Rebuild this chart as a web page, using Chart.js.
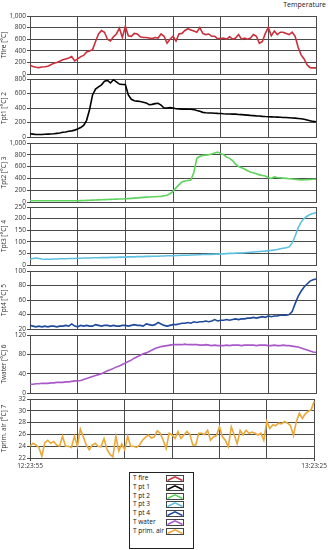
<!DOCTYPE html>
<html>
<head>
<meta charset="utf-8">
<script src="https://cdn.jsdelivr.net/npm/chart.js@4.4.0/dist/chart.umd.min.js"></script>
<style>
  body { margin: 0; background: #fff; width: 328px; height: 550px; position: relative; overflow: hidden; font-family: "Open Sans", sans-serif; }
  canvas { position: absolute; left: 0; }
  #title { position: absolute; right: 2px; top: 0px; font-size: 7px; color: #222; }
  #legend { position: absolute; left: 129px; top: 472px; width: 63px; height: 75px; border: 1px solid #222; background: #fff; }
  .row { position: absolute; left: 3px; width: 58px; height: 8px; }
  .row span { position: absolute; left: 0; top: 0; font-size: 6.5px; color: #111; line-height: 8px; }
  .row svg { position: absolute; left: 33px; top: 1px; }
</style>
</head>
<body>
<div id="title">Temperature</div>
<div id="legend"></div>
<script>
// time range of the recording
const START_TIME = '12:23:55';
const END_TIME = '13:23:25';

const seriesNames = ['T fire', 'T pt 1', 'T pt 2', 'T pt 3', 'T pt 4', 'T water', 'T prim. air'];
const axisTitles = ['Tfire [°C]', 'Tpt1 [°C] 2', 'Tpt2 [°C] 3', 'Tpt3 [°C] 4', 'Tpt4 [°C] 5', 'Twater [°C] 6', 'Tprim. air [°C] 7'];

const tFire = [150, 130, 115, 110, 120, 125, 135, 160, 185, 200, 220, 245, 260, 275, 300, 225, 260, 300, 320, 380,
  395, 420, 560, 690, 750, 720, 600, 570, 640, 690, 790, 630, 820, 660, 650, 700, 690, 640, 630, 630,
  620, 610, 630, 620, 690, 650, 530, 600, 650, 570, 690, 700, 750, 780, 760, 740, 720, 800, 700, 680,
  690, 650, 650, 610, 610, 620, 600, 640, 600, 620, 680, 600, 620, 600, 620, 680, 650, 530, 560, 700,
  800, 660, 740, 680, 720, 720, 700, 680, 720, 650, 460, 330, 260, 160, 110, 105, 105];

const tPt1 = [45, 40, 35, 35, 35, 38, 40, 42, 45, 50, 55, 65, 70, 80, 85, 95, 110, 130, 160, 230,
  380, 580, 660, 690, 720, 770, 780, 745, 790, 760, 730, 725, 725, 580, 520, 500, 495, 490, 480, 470,
  445, 450, 460, 465, 440, 400, 400, 405, 400, 390, 388, 385, 385, 383, 382, 378, 365, 355, 340, 335,
  332, 330, 328, 326, 325, 320, 318, 318, 316, 315, 310, 308, 305, 302, 298, 295, 292, 290, 285, 282,
  280, 278, 276, 274, 272, 270, 268, 265, 262, 260, 256, 252, 245, 235, 225, 215, 210];

const tPt2 = [25, 22, 20, 20, 20, 20, 20, 20, 20, 20, 20, 20, 20, 20, 20, 21, 22, 24, 26, 28,
  30, 32, 34, 36, 38, 40, 42, 44, 46, 48, 50, 52, 55, 58, 62, 66, 70, 74, 78, 82,
  85, 88, 90, 92, 95, 105, 115, 140, 180, 240, 290, 340, 355, 365, 372, 500, 740, 775, 790, 795,
  800, 815, 830, 845, 820, 800, 760, 740, 700, 640, 600, 580, 560, 530, 510, 495, 480, 460, 450, 440,
  410, 400, 425, 415, 410, 405, 400, 395, 390, 385, 380, 375, 378, 380, 382, 385, 385];

const tPt3 = [25, 28, 30, 28, 26, 25, 25, 25, 26, 26, 27, 27, 27, 28, 28, 28, 29, 29, 30, 30,
  30, 31, 31, 31, 32, 32, 32, 33, 33, 33, 34, 34, 34, 35, 35, 35, 36, 36, 36, 37,
  37, 38, 38, 38, 39, 39, 40, 40, 40, 41, 41, 42, 42, 42, 43, 43, 44, 44, 45, 45,
  46, 46, 47, 47, 48, 48, 49, 50, 50, 51, 52, 52, 53, 54, 55, 56, 57, 58, 59, 60,
  62, 63, 65, 67, 70, 72, 74, 78, 95, 125, 160, 185, 200, 210, 218, 222, 225];

const tPt4 = [25, 24, 23, 24, 23, 24, 23, 24, 24, 23, 24, 24, 25, 24, 27, 24, 23, 25, 24, 25,
  24, 24, 26, 25, 24, 25, 25, 24, 25, 24, 24, 25, 25, 24, 25, 26, 25, 25, 24, 27,
  26, 25, 26, 29, 27, 25, 24, 25, 26, 26, 27, 28, 28, 29, 28, 30, 29, 30, 30, 31,
  30, 31, 33, 31, 32, 32, 33, 32, 33, 34, 33, 34, 34, 35, 35, 36, 35, 36, 37, 36,
  38, 37, 38, 38, 39, 39, 39, 40, 44, 55, 65, 72, 78, 82, 86, 88, 89];

const tWater = [18, 18, 19, 19, 20, 20, 20, 21, 21, 22, 22, 22, 23, 23, 24, 25, 25, 26, 28, 30,
  32, 34, 36, 38, 40, 43, 46, 48, 51, 54, 56, 59, 62, 65, 68, 72, 75, 78, 81, 83,
  86, 89, 92, 94, 96, 97, 98, 99, 100, 100, 100, 100, 101, 100, 100, 100, 100, 99, 99, 100,
  99, 98, 99, 98, 98, 98, 99, 98, 99, 99, 99, 98, 99, 99, 99, 99, 98, 99, 99, 99,
  98, 98, 99, 98, 98, 99, 98, 98, 97, 96, 95, 93, 91, 89, 87, 85, 84];

const tPrimAir = [24.0, 24.5, 24.2, 23.8, 22.3, 24.6, 25.0, 24.5, 24.8, 24.2, 24.0, 25.7, 24.0, 24.0, 23.8, 25.7, 24.0, 26.9, 25.6, 24.2,
  23.4, 24.2, 24.5, 24.0, 23.9, 25.3, 23.5, 22.6, 22.2, 25.7, 23.2, 24.4, 23.4, 25.7, 24.0, 24.0, 23.8, 24.2, 25.0, 25.5,
  25.9, 25.4, 25.6, 26.6, 26.2, 25.0, 23.6, 26.2, 25.9, 25.3, 26.5, 25.3, 25.9, 26.5, 26.0, 24.2, 24.2, 26.2, 26.2, 26.0,
  26.7, 25.0, 25.6, 25.8, 27.3, 25.6, 25.0, 23.9, 27.3, 25.9, 24.4, 26.7, 25.9, 26.7, 26.2, 26.4, 26.2, 25.9, 26.2, 25.0,
  28.2, 27.0, 27.6, 27.5, 27.9, 27.8, 28.2, 27.9, 27.5, 25.8, 28.2, 29.6, 28.7, 29.5, 29.9, 30.2, 31.6];

const seriesValues = [tFire, tPt1, tPt2, tPt3, tPt4, tWater, tPrimAir];

// y axis ranges (tick labels)
const yMin = [0, 0, 0, 0, 20, 0, 22];
const yMax = [1000, 800, 1000, 250, 100, 120, 32];
const yStep = [200, 200, 200, 50, 20, 20, 2];

// styling / layout
const COLORS = ['#c9303c', '#000000', '#5ed35e', '#5cc0e0', '#1f4a9a', '#a858c8', '#eba83a'];
const PANEL_TOP = [16, 79, 143, 207, 271, 335, 399];
const PANEL_BOTTOM = [74, 137, 202, 265, 329, 393, 458];
const GRID = '#4a4a4a';
const PAD = 6;

function toSec(t) {
  const p = t.split(':').map(Number);
  return p[0] * 3600 + p[1] * 60 + p[2];
}
function toTime(s) {
  s = Math.round(s);
  const h = Math.floor(s / 3600), m = Math.floor((s % 3600) / 60), sec = s % 60;
  return h + ':' + String(m).padStart(2, '0') + ':' + String(sec).padStart(2, '0');
}

const n = tFire.length;
const s0 = toSec(START_TIME), s1 = toSec(END_TIME);
const timeLabels = [];
for (let i = 0; i < n; i++) timeLabels.push(toTime(s0 + (s1 - s0) * i / (n - 1)));
const gridEvery = (n - 1) / 6;

seriesValues.forEach((values, k) => {
  const isLast = k === seriesValues.length - 1;
  const canvas = document.createElement('canvas');
  const plotH = PANEL_BOTTOM[k] - PANEL_TOP[k];
  const xAxisH = isLast ? 14 : 0;
  canvas.width = 328;
  canvas.height = PAD + plotH + (isLast ? xAxisH : PAD);
  canvas.style.top = (PANEL_TOP[k] - PAD) + 'px';
  document.body.appendChild(canvas);

  new Chart(canvas.getContext('2d'), {
    type: 'line',
    data: {
      labels: timeLabels,
      datasets: [{
        label: seriesNames[k],
        data: values,
        borderColor: COLORS[k],
        borderWidth: 1.6,
        pointRadius: 0,
        tension: 0,
        fill: false
      }]
    },
    options: {
      responsive: false,
      animation: false,
      devicePixelRatio: 1,
      layout: { padding: { top: PAD, bottom: isLast ? 0 : PAD, left: 0, right: 12 } },
      plugins: { legend: { display: false }, tooltip: { enabled: false } },
      scales: {
        x: {
          type: 'category',
          offset: false,
          afterFit: (scale) => { scale.height = xAxisH; },
          grid: {
            color: (ctx) => (ctx.index % gridEvery === 0 ? GRID : 'rgba(0,0,0,0)'),
            tickColor: (ctx) => (ctx.index === 0 || ctx.index === n - 1 ? GRID : 'rgba(0,0,0,0)'),
            drawTicks: isLast,
            tickLength: 3,
            lineWidth: 1
          },
          border: { color: GRID },
          ticks: {
            display: isLast,
            autoSkip: false,
            maxRotation: 0,
            padding: 1,
            color: '#333',
            font: { family: 'Open Sans', size: 6.5 },
            callback: (val, idx) => (idx === 0 ? START_TIME : idx === n - 1 ? END_TIME : '')
          }
        },
        y: {
          min: yMin[k],
          max: yMax[k],
          afterFit: (scale) => { scale.width = 30; },
          grid: { color: GRID, tickColor: GRID, tickLength: 3, lineWidth: 1 },
          border: { color: GRID },
          ticks: {
            stepSize: yStep[k],
            padding: 1,
            color: '#333',
            font: { family: 'Open Sans', size: 6.5 }
          },
          title: {
            display: true,
            text: axisTitles[k],
            color: '#333',
            padding: { top: 0, bottom: 0 },
            font: { family: 'Open Sans', size: 6.5 }
          }
        }
      }
    }
  });
});

// legend box
const legend = document.getElementById('legend');
seriesNames.forEach((name, k) => {
  const row = document.createElement('div');
  row.className = 'row';
  row.style.top = (1 + k * 8.8) + 'px';
  const label = document.createElement('span');
  label.textContent = name;
  row.appendChild(label);
  row.insertAdjacentHTML('beforeend', '<svg width="18" height="7" viewBox="0 0 18 7">' +
    '<rect x="0.5" y="0.5" width="17" height="6" fill="#fff" stroke="#444" stroke-width="1"/>' +
    '<polyline points="1.5,5.5 9,1.8 16.5,5.5" fill="none" stroke="' + COLORS[k] + '" stroke-width="1.4"/>' +
    '</svg>');
  legend.appendChild(row);
});
</script>
</body>
</html>
